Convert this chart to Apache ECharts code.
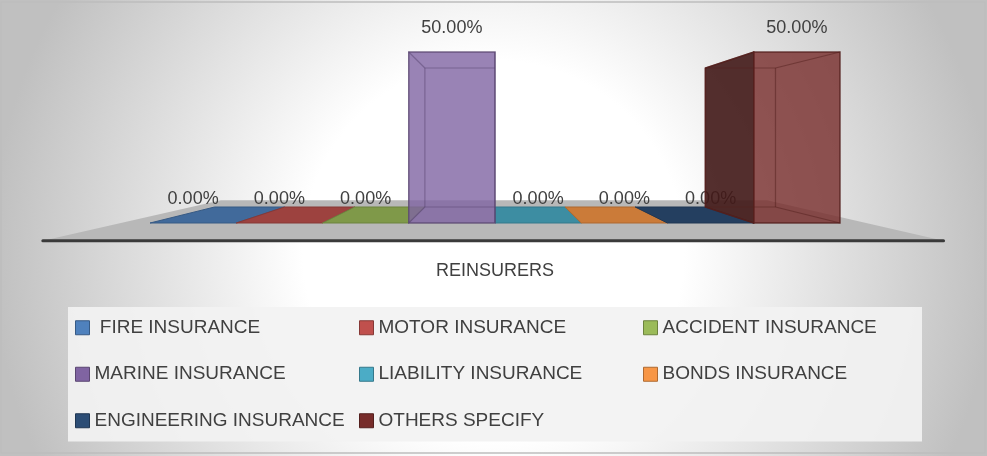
<!DOCTYPE html>
<html>
<head>
<meta charset="utf-8">
<script src="https://cdn.jsdelivr.net/npm/echarts@6/dist/echarts.min.js"></script>
<style>
  html, body { margin: 0; padding: 0; }
  #chart { width: 987px; height: 456px; }
</style>
</head>
<body>
<div id="chart"></div>
<script>
var categories = ['REINSURERS'];
var seriesNames = [' FIRE INSURANCE', 'MOTOR INSURANCE', 'ACCIDENT INSURANCE', 'MARINE INSURANCE',
  'LIABILITY INSURANCE', 'BONDS INSURANCE', 'ENGINEERING INSURANCE', 'OTHERS SPECIFY'];
var seriesValues = [0, 0, 0, 0.5, 0, 0, 0, 0.5];
var seriesColors = ['#4F81BD', '#C0504D', '#9BBB59', '#8064A2', '#4BACC6', '#F79646', '#2C4D75', '#772C2A'];

var BACK = 0.813;   // back face scale toward the vanishing point
var FONT = 'Liberation Sans, Arial, sans-serif';

// multiply rgb channels, f < 1 gives a darker colour
function shade(hex, f) {
  var c = echarts.color.parse(hex);
  return 'rgb(' + Math.round(c[0] * f) + ',' + Math.round(c[1] * f) + ',' + Math.round(c[2] * f) + ')';
}

function toward(p, vp, s) {
  return [vp[0] + (p[0] - vp[0]) * s, vp[1] + (p[1] - vp[1]) * s];
}

function boxRenderer(slot) {
  return function (params, api) {
    var cs = params.coordSys;
    var vp = [cs.x + cs.width / 2, cs.y + cs.height / 2];
    var base = api.coord([api.value(0), 0]);
    var top = api.coord([api.value(0), api.value(1)]);
    var band = api.size([1, 0])[0];
    var slotW = band / seriesNames.length;
    var x0 = base[0] - band / 2 + slot * slotW, x1 = x0 + slotW;
    var yb = base[1], yt = top[1];
    var color = seriesColors[slot];
    var dark = shade(color, 0.7);
    var FLt = [x0, yt], FRt = [x1, yt], FRb = [x1, yb], FLb = [x0, yb];
    var BLt = toward(FLt, vp, BACK), BRt = toward(FRt, vp, BACK);
    var BRb = toward(FRb, vp, BACK), BLb = toward(FLb, vp, BACK);
    var children = [];
    children.push({
      type: 'text', z2: 5,
      style: {
        x: (x0 + x1) / 2, y: yt - 24, text: (api.value(1) * 100).toFixed(2) + '%',
        fill: '#404040', font: '18px ' + FONT, align: 'center', verticalAlign: 'middle'
      }
    });
    if (yb - yt < 1) {
      // zero value: flat tile on the floor
      children.push({
        type: 'polygon', z2: 10,
        shape: { points: [FLb, FRb, BRb, BLb] },
        style: { fill: shade(color, 0.82), stroke: dark, lineWidth: 1 }
      });
      return { type: 'group', children: children };
    }
    if (x0 > vp[0]) {
      children.push({
        type: 'polygon', z2: 10,
        shape: { points: [FLt, FLb, BLb, BLt] },
        style: { fill: shade(color, 0.55), opacity: 0.9, stroke: dark, lineWidth: 1.5 }
      });
    }
    if (x1 < vp[0] - 2) {
      children.push({
        type: 'polygon', z2: 10,
        shape: { points: [FRt, FRb, BRb, BRt] },
        style: { fill: shade(color, 0.55), opacity: 0.9, stroke: dark, lineWidth: 1.5 }
      });
    }
    children.push({
      type: 'polygon', z2: 11,
      shape: { points: [FLt, FRt, FRb, FLb] },
      style: { fill: color, opacity: 0.8, stroke: dark, lineWidth: 1.5 }
    });
    var edges = [[BLt, BRt], [BRt, BRb], [BRb, BLb], [BLb, BLt], [FLt, BLt], [FRt, BRt], [FRb, BRb], [FLb, BLb]];
    edges.forEach(function (e) {
      children.push({
        type: 'line', z2: 12,
        shape: { x1: e[0][0], y1: e[0][1], x2: e[1][0], y2: e[1][1] },
        style: { stroke: dark, lineWidth: 1.2, opacity: 0.5 }
      });
    });
    return { type: 'group', children: children };
  };
}

function floorRenderer(params, api) {
  var cs = params.coordSys;
  var vp = [cs.x + cs.width / 2, cs.y + cs.height / 2];
  var yb = cs.y + cs.height;
  var L = [cs.x - 29, yb], R = [cs.x + cs.width + 26, yb];
  var fL = toward(L, vp, 1.209), fR = toward(R, vp, 1.209);
  var bL = toward(L, vp, 0.733), bR = toward(R, vp, 0.733);
  return {
    type: 'group',
    children: [
      { type: 'polygon', shape: { points: [fL, fR, bR, bL] }, style: { fill: '#b8b8b8' } },
      { type: 'line', shape: { x1: fL[0], y1: fL[1], x2: fR[0], y2: fR[1] },
        style: { stroke: '#3a3a3a', lineWidth: 3, lineCap: 'round' } }
    ]
  };
}

var series = [{
  type: 'custom', name: 'floor', silent: true, z: 1,
  renderItem: floorRenderer,
  data: [[0, 0]]
}];
seriesNames.forEach(function (name, i) {
  series.push({
    type: 'custom', name: name, z: 2,
    renderItem: boxRenderer(i),
    itemStyle: { color: seriesColors[i] },
    encode: { x: 0, y: 1 },
    data: [[0, seriesValues[i]]]
  });
});

var chart = echarts.init(document.getElementById('chart'));
chart.setOption({
  backgroundColor: {
    type: 'radial', x: 0.5, y: 0.55, r: 1.1,
    colorStops: [
      { offset: 0, color: '#ffffff' },
      { offset: 0.38, color: '#ffffff' },
      { offset: 1, color: '#c0c0c0' }
    ]
  },
  animation: false,
  graphic: [{
    type: 'rect', silent: true,
    shape: { x: 1, y: 2, width: 984, height: 451 },
    style: { fill: 'none', stroke: '#bdbdbd', lineWidth: 1.5 }
  }],
  grid: { left: 150, right: 147, top: 52, bottom: 233 },
  xAxis: {
    type: 'category', data: categories,
    axisLine: { show: false }, axisTick: { show: false }, splitLine: { show: false },
    axisLabel: { margin: 39, fontSize: 18, color: '#404040', fontFamily: FONT }
  },
  yAxis: { type: 'value', min: 0, max: 0.5, show: false },
  legend: {
    data: seriesNames.map(function (n, i) {
      return { name: n, itemStyle: { color: seriesColors[i], borderColor: shade(seriesColors[i], 0.7), borderWidth: 1 } };
    }),
    left: 68, top: 307, width: 870,
    padding: [0, 0, 0, 7],
    orient: 'horizontal',
    icon: 'rect', itemWidth: 14, itemHeight: 14, itemGap: 5,
    backgroundColor: 'rgba(242,242,242,0.92)',
    textStyle: { color: '#404040', fontSize: 19, fontFamily: FONT, width: 259.5, lineHeight: 41.5 }
  },
  series: series
});
</script>
</body>
</html>
